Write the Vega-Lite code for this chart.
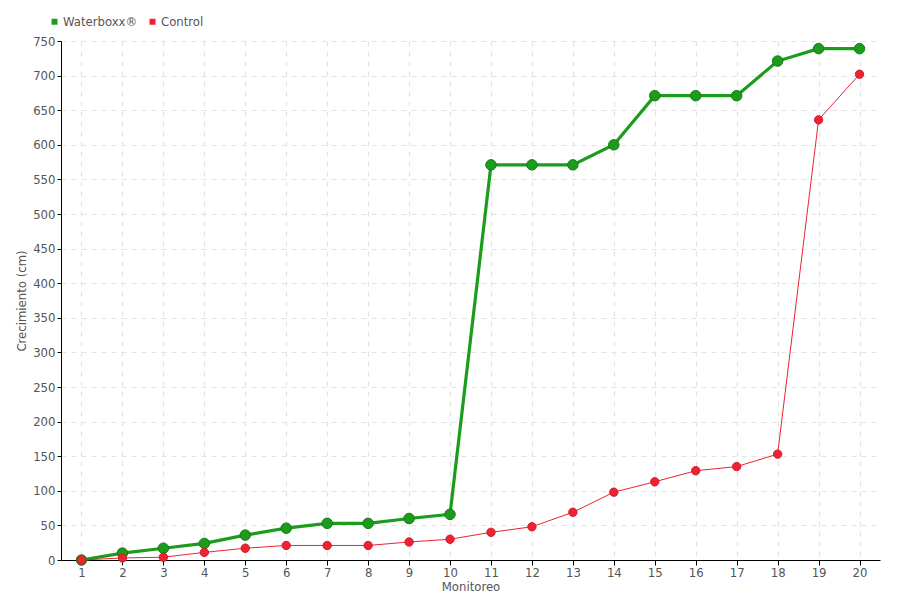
{
  "$schema": "https://vega.github.io/schema/vega-lite/v6.json",
  "width": 819,
  "height": 519,
  "autosize": {"type": "none"},
  "padding": {"left": 61, "top": 41, "right": 20, "bottom": 40},
  "background": "white",
  "config": {
    "view": {"stroke": null},
    "font": "DejaVu Sans Condensed, Roboto, sans-serif",
    "axis": {
      "labelFont": "DejaVu Sans Condensed, Roboto, sans-serif",
      "titleFont": "DejaVu Sans Condensed, Roboto, sans-serif",
      "labelColor": "#555555",
      "titleColor": "#555555",
      "labelFontSize": 13,
      "titleFontSize": 13,
      "titleFontWeight": "normal",
      "domainColor": "#000000",
      "tickColor": "#000000",
      "gridColor": "#e3e3e3",
      "gridDash": [5, 5],
      "gridWidth": 1.2
    },
    "legend": {
      "labelFont": "DejaVu Sans Condensed, Roboto, sans-serif",
      "labelFontSize": 13,
      "labelColor": "#555555"
    }
  },
  "data": {
    "values": [
      {"m": 1, "serie": "Waterboxx®", "v": 0},
      {"m": 2, "serie": "Waterboxx®", "v": 10},
      {"m": 3, "serie": "Waterboxx®", "v": 17},
      {"m": 4, "serie": "Waterboxx®", "v": 24},
      {"m": 5, "serie": "Waterboxx®", "v": 36},
      {"m": 6, "serie": "Waterboxx®", "v": 46},
      {"m": 7, "serie": "Waterboxx®", "v": 53},
      {"m": 8, "serie": "Waterboxx®", "v": 53},
      {"m": 9, "serie": "Waterboxx®", "v": 60},
      {"m": 10, "serie": "Waterboxx®", "v": 66},
      {"m": 11, "serie": "Waterboxx®", "v": 571},
      {"m": 12, "serie": "Waterboxx®", "v": 571},
      {"m": 13, "serie": "Waterboxx®", "v": 571},
      {"m": 14, "serie": "Waterboxx®", "v": 600},
      {"m": 15, "serie": "Waterboxx®", "v": 671},
      {"m": 16, "serie": "Waterboxx®", "v": 671},
      {"m": 17, "serie": "Waterboxx®", "v": 671},
      {"m": 18, "serie": "Waterboxx®", "v": 721},
      {"m": 19, "serie": "Waterboxx®", "v": 739},
      {"m": 20, "serie": "Waterboxx®", "v": 739},
      {"m": 1, "serie": "Control", "v": 0},
      {"m": 2, "serie": "Control", "v": 3},
      {"m": 3, "serie": "Control", "v": 4},
      {"m": 4, "serie": "Control", "v": 11},
      {"m": 5, "serie": "Control", "v": 17},
      {"m": 6, "serie": "Control", "v": 21},
      {"m": 7, "serie": "Control", "v": 21},
      {"m": 8, "serie": "Control", "v": 21},
      {"m": 9, "serie": "Control", "v": 26},
      {"m": 10, "serie": "Control", "v": 30},
      {"m": 11, "serie": "Control", "v": 40},
      {"m": 12, "serie": "Control", "v": 48},
      {"m": 13, "serie": "Control", "v": 69},
      {"m": 14, "serie": "Control", "v": 98},
      {"m": 15, "serie": "Control", "v": 113},
      {"m": 16, "serie": "Control", "v": 129},
      {"m": 17, "serie": "Control", "v": 135},
      {"m": 18, "serie": "Control", "v": 153},
      {"m": 19, "serie": "Control", "v": 636},
      {"m": 20, "serie": "Control", "v": 702}
    ]
  },
  "encoding": {
    "x": {
      "field": "m",
      "type": "quantitative",
      "scale": {"domain": [0.5, 20.5], "nice": false, "zero": false},
      "axis": {
        "title": "Monitoreo",
        "values": [1,2,3,4,5,6,7,8,9,10,11,12,13,14,15,16,17,18,19,20],
        "format": "d",
        "tickSize": 5,
        "labelPadding": 1,
        "titlePadding": 1,
        "grid": true
      }
    },
    "y": {
      "field": "v",
      "type": "quantitative",
      "scale": {"domain": [0, 750], "nice": false},
      "axis": {
        "title": "Crecimiento (cm)",
        "values": [0,50,100,150,200,250,300,350,400,450,500,550,600,650,700,750],
        "tickSize": 4,
        "labelPadding": 2,
        "titlePadding": 4,
        "grid": true
      }
    },
    "color": {
      "field": "serie",
      "type": "nominal",
      "scale": {"domain": ["Waterboxx®", "Control"], "range": ["#1c9c1c", "#ee2233"]},
      "legend": {
        "title": null,
        "orient": "none",
        "legendX": -13,
        "legendY": -26,
        "direction": "horizontal",
        "symbolType": "square",
        "symbolSize": 36,
        "symbolStrokeWidth": 0,
        "symbolStrokeColor": "transparent",
        "labelOffset": 2,
        "columnPadding": 8
      }
    }
  },
  "layer": [
    {
      "transform": [{"filter": "datum.serie === 'Waterboxx®'"}],
      "mark": {"type": "line", "strokeWidth": 3.2}
    },
    {
      "transform": [{"filter": "datum.serie === 'Waterboxx®'"}],
      "mark": {"type": "point", "filled": true, "opacity": 1, "size": 110, "stroke": "#167a16", "strokeWidth": 1}
    },
    {
      "transform": [{"filter": "datum.serie === 'Control'"}],
      "mark": {"type": "line", "strokeWidth": 1}
    },
    {
      "transform": [{"filter": "datum.serie === 'Control'"}],
      "mark": {"type": "point", "filled": true, "opacity": 1, "size": 70, "stroke": "#d11a2a", "strokeWidth": 1}
    }
  ]
}
